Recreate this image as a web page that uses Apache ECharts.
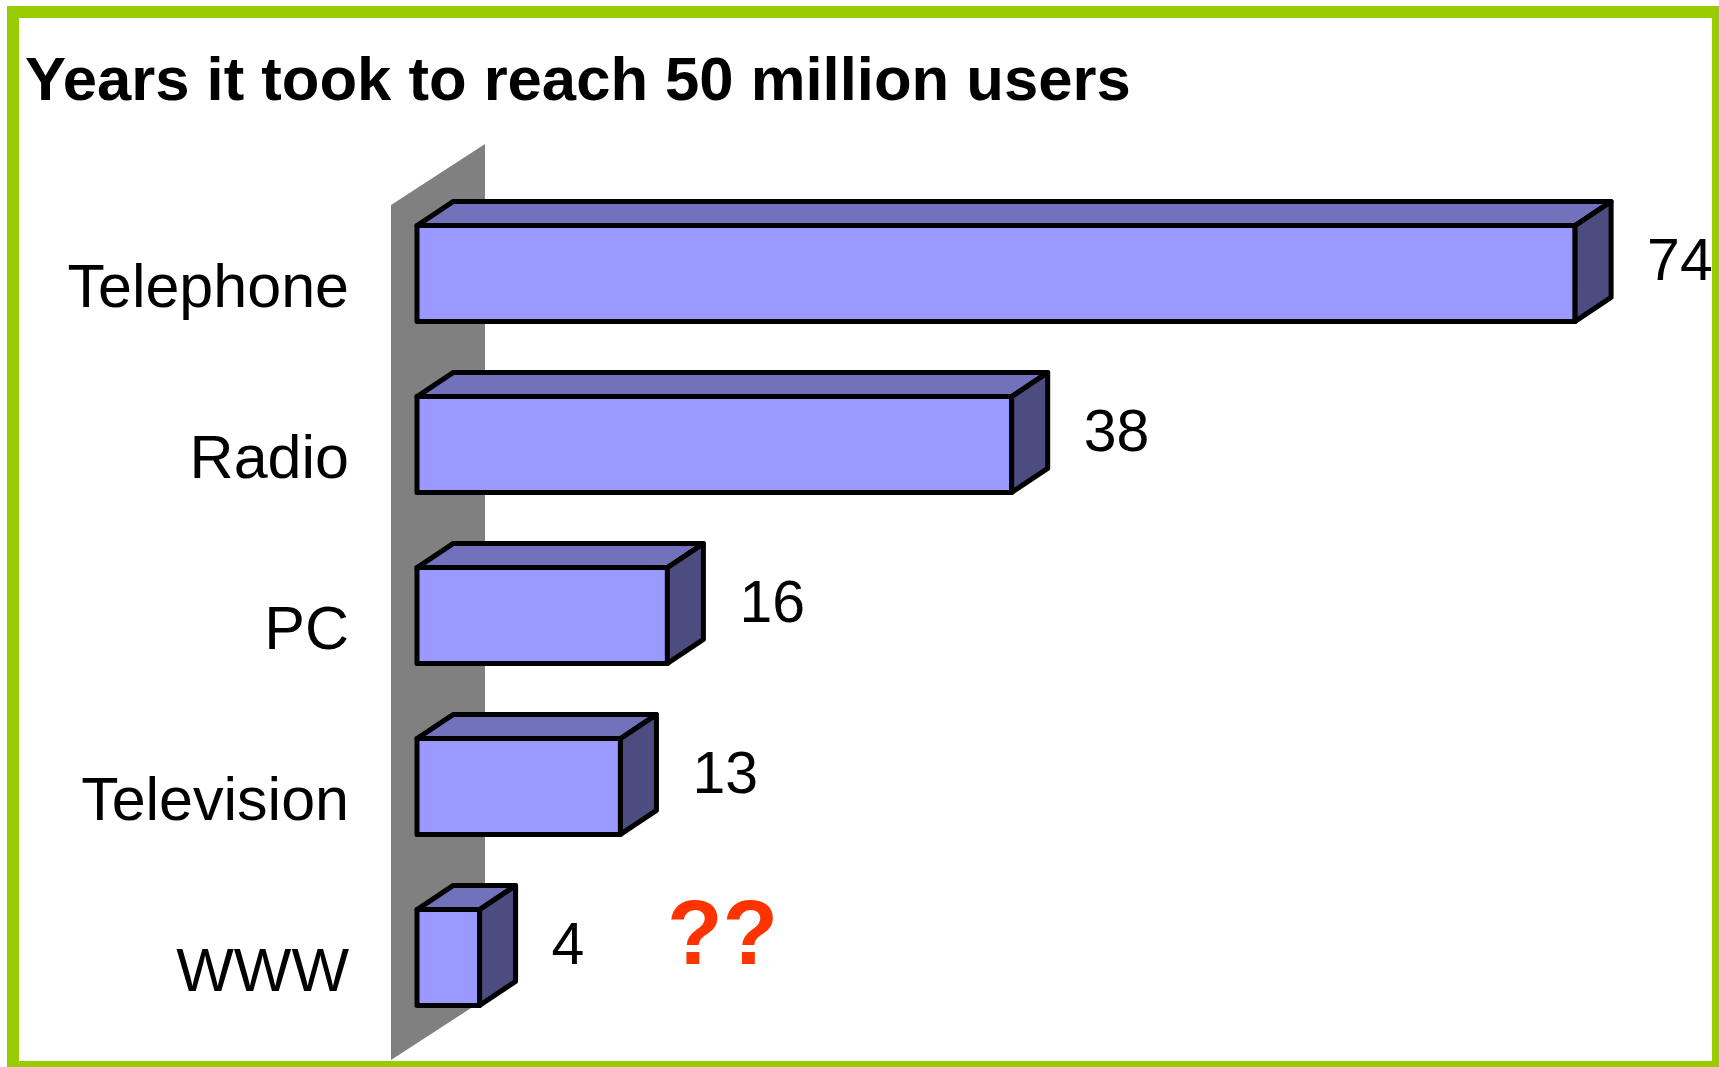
<!DOCTYPE html>
<html>
<head>
<meta charset="utf-8">
<script src="https://cdn.jsdelivr.net/npm/echarts@6/dist/echarts.min.js"></script>
<style>
  html, body { margin: 0; padding: 0; background: #fff; }
  #chart { width: 1719px; height: 1067px; }
</style>
</head>
<body>
<div id="chart"></div>
<script>
// ---- data ----
const titleText = 'Years it took to reach 50 million users';
const categories = ['Telephone', 'Radio', 'PC', 'Television', 'WWW'];
const yearsToReach = [74, 38, 16, 13, 4];
const noteText = '??';

// ---- look ----
const FONT = "'Liberation Sans', Arial, Helvetica, sans-serif";
// oblique depth projection: the wall spans the full depth, bars sit in a slice of it
const WALL_DEPTH = [94, -61];
const BAR_FRONT = [26, -17];
const BAR_DEPTH = [36, -24];
const FACE_FRONT = '#9999FF';
const FACE_TOP = '#7171BC';
const FACE_SIDE = '#4C4C80';

const chart = echarts.init(document.getElementById('chart'), null, { renderer: 'canvas' });

function renderWall(params) {
  const c = params.coordSys;
  return {
    type: 'polygon',
    silent: true,
    shape: {
      points: [
        [c.x, c.y],
        [c.x + WALL_DEPTH[0], c.y + WALL_DEPTH[1]],
        [c.x + WALL_DEPTH[0], c.y + c.height + WALL_DEPTH[1]],
        [c.x, c.y + c.height]
      ]
    },
    style: { fill: '#808080' }
  };
}

function renderBar(params, api) {
  const v = api.value(0);
  const idx = api.value(1);
  const end = api.coord([v, idx]);
  const start = api.coord([0, idx]);
  const band = api.size([0, 1])[1];
  const h = band * 0.56;
  const x0 = start[0] + BAR_FRONT[0];
  const x1 = end[0] + BAR_FRONT[0];
  const yc = end[1] + BAR_FRONT[1];
  const y0 = yc - h / 2;
  const y1 = yc + h / 2;
  const dx = BAR_DEPTH[0], dy = BAR_DEPTH[1];
  const edge = { stroke: '#000', lineWidth: 5, lineJoin: 'round' };
  return {
    type: 'group',
    children: [
      { type: 'polygon', shape: { points: [[x0, y0], [x1, y0], [x1, y1], [x0, y1]] },
        style: Object.assign({ fill: FACE_FRONT }, edge) },
      { type: 'polygon', shape: { points: [[x0, y0], [x0 + dx, y0 + dy], [x1 + dx, y0 + dy], [x1, y0]] },
        style: Object.assign({ fill: FACE_TOP }, edge) },
      { type: 'polygon', shape: { points: [[x1, y0], [x1 + dx, y0 + dy], [x1 + dx, y1 + dy], [x1, y1]] },
        style: Object.assign({ fill: FACE_SIDE }, edge) },
      { type: 'text', x: x1 + dx + 36, y: yc - 10,
        style: { text: String(v), fill: '#000', fontSize: 59, fontFamily: FONT,
                 align: 'left', verticalAlign: 'middle' } }
    ]
  };
}

chart.setOption({
  animation: false,
  backgroundColor: '#fff',
  title: {
    text: titleText,
    left: 20,
    top: 47,
    textStyle: { fontSize: 61.6, fontWeight: 'bold', fontFamily: FONT, color: '#000' }
  },
  grid: { left: 391, top: 205, width: 1252, height: 855, containLabel: false },
  xAxis: { type: 'value', min: 0, max: 80, show: false },
  yAxis: {
    type: 'category',
    data: categories,
    inverse: true,
    axisLine: { show: false },
    axisTick: { show: false },
    splitLine: { show: false },
    axisLabel: { margin: 42, fontSize: 61, color: '#000', fontFamily: FONT }
  },
  graphic: [
    { type: 'text', x: 667, y: 939, z: 50,
      style: { text: noteText, fill: '#FF3300', fontSize: 91, fontWeight: 'bold',
               fontFamily: FONT, align: 'left', verticalAlign: 'middle' } },
    { type: 'rect', z: 100, silent: true,
      shape: { x: 13, y: 12, width: 1705, height: 1055 },
      style: { fill: 'none', stroke: '#99CC00', lineWidth: 12 } }
  ],
  series: [
    { type: 'custom', name: 'wall', renderItem: renderWall, data: [[0, 0]], z: 1, silent: true },
    { type: 'custom', name: 'years', renderItem: renderBar, z: 2,
      encode: { x: 0, y: 1 },
      data: yearsToReach.map((v, i) => [v, i]) }
  ]
});
</script>
</body>
</html>
